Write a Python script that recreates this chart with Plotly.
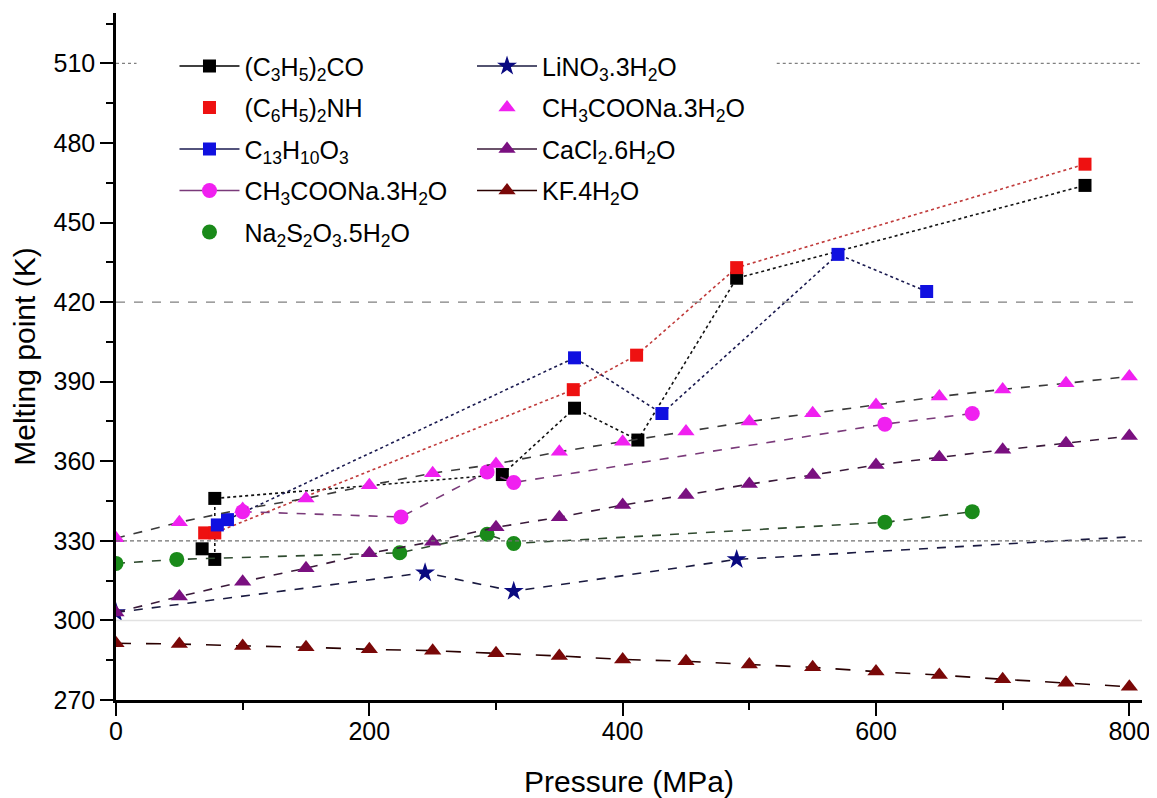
import plotly.graph_objects as go

# ---------------- data ----------------
p_ketone = [68, 78, 78, 305, 362, 412, 490, 765]
t_ketone = [327, 323, 346, 355, 380, 368, 429, 464]

p_amine = [70, 78, 361, 411, 490, 765]
t_amine = [333, 333, 387, 400, 433, 472]

p_c13 = [80, 88, 362, 431, 570, 640]
t_c13 = [336, 338, 399, 378, 438, 424]

p_naac_c = [100, 225, 293, 314, 607, 676]
t_naac_c = [341, 339, 356, 352, 374, 378]

p_thio = [0, 48, 224, 293, 314, 607, 676]
t_thio = [321.5, 323, 325.5, 332.5, 329, 337, 341]

p_lino3 = [0, 244, 314, 490, 800]
t_lino3 = [303, 318, 311, 323, 331.5]

p_step = [0, 50, 100, 150, 200, 250, 300, 350, 400, 450, 500, 550, 600, 650, 700, 750, 800]
t_naac_t = [331, 337, 342, 346, 351, 355.5, 359, 363.6, 367.4, 371.2, 375, 378.1, 381.2, 384.4, 387.1, 389.4, 392]
t_cacl2 = [303, 309, 314.6, 319.7, 325.3, 329.7, 335.1, 338.9, 343.5, 347.3, 351.4, 354.8, 358.6, 361.5, 364.3, 366.8, 369.5]
t_kf = [291.4, 291.1, 290.4, 289.9, 289.1, 288.6, 287.6, 286.6, 285.3, 284.6, 283.4, 282.3, 280.7, 279.4, 277.8, 276.5, 275]

names = {
    "ketone": "(C<sub>3</sub>H<sub>5</sub>)<sub>2</sub>CO",
    "amine": "(C<sub>6</sub>H<sub>5</sub>)<sub>2</sub>NH",
    "c13": "C<sub>13</sub>H<sub>10</sub>O<sub>3</sub>",
    "naac_c": "CH<sub>3</sub>COONa.3H<sub>2</sub>O",
    "thio": "Na<sub>2</sub>S<sub>2</sub>O<sub>3</sub>.5H<sub>2</sub>O",
    "lino3": "LiNO<sub>3</sub>.3H<sub>2</sub>O",
    "naac_t": "CH<sub>3</sub>COONa.3H<sub>2</sub>O",
    "cacl2": "CaCl<sub>2</sub>.6H<sub>2</sub>O",
    "kf": "KF.4H<sub>2</sub>O",
}

ref_lines = [510, 420, 330, 300]

FONT = "Liberation Sans, Arial, sans-serif"
fig = go.Figure()

# (key, x, y, marker color, symbol, line color, dash, legend shows line, legend id, end marker hidden)
series = [
    ("ketone", p_ketone, t_ketone, "#000000", "square", "#111111", "dot", True, "legend", False),
    ("amine", p_amine, t_amine, "#ee1111", "square", "#c03a3a", "dot", False, "legend", False),
    ("c13", p_c13, t_c13, "#1010e0", "square", "#1a1a50", "dot", True, "legend", False),
    ("naac_c", p_naac_c, t_naac_c, "#f020f0", "circle", "#7a3a7a", "dash", True, "legend", False),
    ("thio", p_thio, t_thio, "#1a8a1a", "circle", "#2f4a2f", "dash", False, "legend", False),
    ("lino3", p_lino3, t_lino3, "#0a0a80", "star", "#1a1a40", "dash", True, "legend2", True),
    ("naac_t", p_step, t_naac_t, "#f020f0", "triangle-up", "#3a3a3a", "dash", False, "legend2", False),
    ("cacl2", p_step, t_cacl2, "#7a1080", "triangle-up", "#3a1a3a", "dash", True, "legend2", False),
    ("kf", p_step, t_kf, "#7a0808", "triangle-up", "#2a0000", "longdash", True, "legend2", False),
]

msize = {"square": 13, "circle": 15, "triangle-up": 15, "star": 15}

for key, xs, ys, mc, sym, lc, dash, legline, leg, hide_end in series:
    sizes = [msize[sym]] * len(xs)
    if hide_end:
        sizes[-1] = 0
    fig.add_trace(go.Scatter(
        x=xs, y=ys, mode="lines+markers", showlegend=False,
        line=dict(color=lc, width=1.6, dash=dash),
        marker=dict(symbol=sym, size=sizes, color=mc, opacity=1, line=dict(width=0)),
        hoverinfo="x+y",
    ))

for key, xs, ys, mc, sym, lc, dash, legline, leg, hide_end in series:
    fig.add_trace(go.Scatter(
        x=[None], y=[None], name=names[key], legend=leg, legendgroup=key,
        mode="lines+markers" if legline else "markers",
        line=dict(color=lc if key != "ketone" else "#000000", width=1.6),
        marker=dict(symbol=sym, size=msize[sym], color=mc, opacity=1, line=dict(width=0)),
    ))

# reference lines
shapes = [
    dict(type="line", xref="paper", yref="y", x0=0, x1=0.02, y0=ref_lines[0], y1=ref_lines[0],
         line=dict(color="#808080", width=1.2, dash="dot")),
    dict(type="line", xref="paper", yref="y", x0=0.644, x1=1, y0=ref_lines[0], y1=ref_lines[0],
         line=dict(color="#808080", width=1.2, dash="dot")),
    dict(type="line", xref="paper", yref="y", x0=0, x1=1, y0=ref_lines[1], y1=ref_lines[1],
         line=dict(color="#808080", width=1.2, dash="dash")),
    dict(type="line", xref="paper", yref="y", x0=0, x1=1, y0=ref_lines[2], y1=ref_lines[2],
         line=dict(color="#707070", width=1.2, dash="4px,3px")),
    dict(type="line", xref="paper", yref="y", x0=0, x1=1, y0=ref_lines[3], y1=ref_lines[3],
         line=dict(color="#e2e2e2", width=1.5)),
]

legend_common = dict(
    font=dict(family=FONT, size=25, color="#000000"),
    bgcolor="rgba(0,0,0,0)", borderwidth=0,
    xanchor="left", yanchor="top", itemwidth=60,
    tracegroupgap=6, traceorder="grouped",
)

# the page adds an 8 px body margin, so the figure is 8 px smaller and margins shifted
fig.update_layout(
    width=1149, height=790,
    margin=dict(l=108, r=15, t=5, b=98),
    paper_bgcolor="white", plot_bgcolor="white",
    font=dict(family=FONT, color="#000000"),
    shapes=shapes,
    legend=dict(x=0.057, y=0.956, **legend_common),
    legend2=dict(x=0.347, y=0.956, **legend_common),
    xaxis=dict(
        range=[0, 810], tickmode="linear", tick0=0, dtick=200, automargin=False,
        showgrid=False, zeroline=False, showline=True, linecolor="#000000", linewidth=2.5,
        ticks="outside", ticklen=13, tickwidth=2, tickcolor="#000000", ticklabelstandoff=-6,
        minor=dict(dtick=100, ticks="outside", ticklen=7, tickwidth=2, tickcolor="#000000", showgrid=False),
        tickfont=dict(family=FONT, size=25),
        title=dict(text="Pressure (MPa)", font=dict(family=FONT, size=30), standoff=30),
    ),
    yaxis=dict(
        range=[270, 529], tickmode="linear", tick0=270, dtick=30, automargin=False,
        showgrid=False, zeroline=False, showline=True, linecolor="#000000", linewidth=2.5,
        ticks="outside", ticklen=13, tickwidth=2, tickcolor="#000000",
        minor=dict(dtick=15, ticks="outside", ticklen=7, tickwidth=2, tickcolor="#000000", showgrid=False),
        tickfont=dict(family=FONT, size=25),
        title=dict(text="Melting point (K)", font=dict(family=FONT, size=30), standoff=10),
    ),
)

fig.write_html("out.html")
